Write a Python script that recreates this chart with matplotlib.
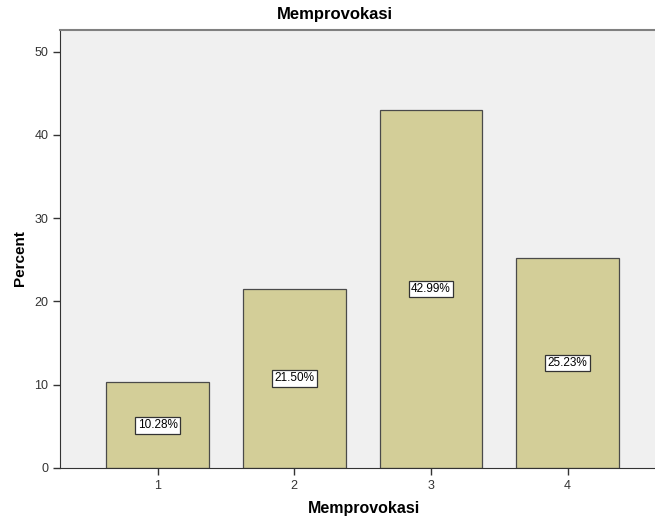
import matplotlib
matplotlib.use("Agg")
import matplotlib.pyplot as plt

# Percent per response category
categories = [1, 2, 3, 4]
percents = [10.28, 21.50, 42.99, 25.23]
tick_labels = ["1", "2", "3", "4"]

plt.rcParams['font.family'] = ['Liberation Sans', 'DejaVu Sans']

fig = plt.figure(figsize=(6.55, 5.2), dpi=100)
ax = fig.add_axes([60/655, 52/520, 595/655, 438/520])
ax.set_facecolor('#F0F0F0')

bars = ax.bar(categories, percents, width=0.75, color='#D3CE98',
              edgecolor='#4a4a4a', linewidth=0.9, zorder=2)

# value labels in white boxes at half bar height
for x, v in zip(categories, percents):
    ax.text(x, v/2, "%.2f%%" % v, ha='center', va='center', fontsize=8.5,
            zorder=3,
            bbox=dict(boxstyle='square,pad=0.2', facecolor='white',
                      edgecolor='#333333', linewidth=0.9))

ax.set_xlim(0.285, 4.64)
ax.set_ylim(0, 52.6)
ax.set_xticks(categories)
ax.set_xticklabels(tick_labels)
ax.set_yticks([0, 10, 20, 30, 40, 50])
ax.tick_params(axis='both', direction='out', length=5, width=1,
               labelsize=9, color='#333333', labelcolor='#333333')

ax.spines['right'].set_visible(False)
ax.spines['top'].set_color('#808080')
ax.spines['top'].set_linewidth(1.5)
ax.spines['left'].set_color('#333333')
ax.spines['bottom'].set_color('#333333')

fig.text(20/655, 1 - 258/520, 'Percent', rotation=90, ha='center', va='center',
         fontsize=11, fontweight='bold')
fig.text(364/655, 1 - 509/520, 'Memprovokasi', ha='center', va='center',
         fontsize=11.5, fontweight='bold')
fig.text(335/655, 1 - 15/520, 'Memprovokasi', ha='center', va='center',
         fontsize=12, fontweight='bold')

fig.savefig('out.png', dpi=100, facecolor='white')
